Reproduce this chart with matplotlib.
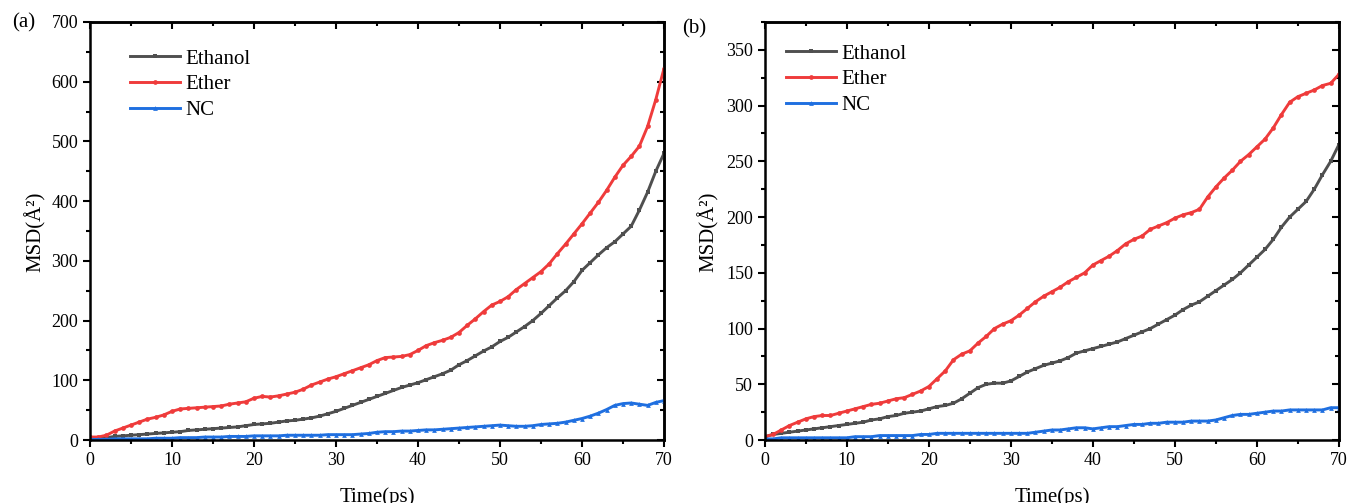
import matplotlib
matplotlib.use("Agg")
import matplotlib.pyplot as plt
from matplotlib.ticker import MultipleLocator

plt.rcParams['font.family'] = ['Liberation Serif', 'DejaVu Serif']

# ── Data (1 ps steps) ──
time_ps = list(range(0, 71))

ethanol_a = [2, 3, 4, 6, 7, 8, 9, 10, 11, 12,
             13, 14, 16, 17, 18, 19, 20, 21, 22, 24,
             26, 27, 28, 30, 32, 33, 35, 37, 40, 44,
             48, 53, 58, 63, 68, 73, 78, 83, 88, 92,
             96, 101, 106, 111, 117, 126, 133, 141, 149, 156,
             165, 172, 181, 190, 200, 212, 225, 238, 250, 265,
             284, 297, 310, 322, 332, 345, 358, 385, 415, 450,
             480]
ether_a = [5, 5, 8, 15, 20, 25, 30, 35, 38, 42,
           48, 52, 53, 54, 55, 56, 57, 60, 62, 64,
           70, 73, 72, 74, 77, 80, 85, 92, 97, 102,
           106, 111, 116, 121, 126, 133, 138, 139, 140, 143,
           150, 158, 163, 167, 172, 180, 192, 203, 215, 226,
           232, 240, 252, 262, 272, 282, 295, 312, 328, 345,
           362, 380, 398, 418, 440, 460, 475, 492, 525, 570,
           622]
nc_a = [1, 1, 1, 2, 2, 2, 2, 2, 3, 3,
        3, 4, 4, 4, 5, 5, 5, 6, 6, 6,
        7, 7, 7, 7, 8, 8, 8, 8, 8, 9,
        9, 9, 9, 10, 11, 13, 14, 14, 15, 15,
        16, 17, 17, 18, 19, 20, 21, 22, 23, 24,
        25, 24, 23, 23, 24, 26, 27, 28, 30, 33,
        36, 40, 45, 51, 58, 61, 62, 60, 58, 63,
        66]

ethanol_b = [3, 5, 6, 7, 8, 9, 10, 11, 12, 13,
             14, 15, 16, 18, 19, 21, 22, 24, 25, 26,
             28, 30, 31, 33, 37, 42, 47, 50, 51, 51,
             53, 57, 61, 64, 67, 69, 71, 74, 78, 80,
             82, 84, 86, 88, 91, 94, 97, 100, 104, 108,
             112, 117, 121, 124, 129, 134, 139, 144, 150, 157,
             164, 171, 180, 191, 200, 207, 214, 225, 238, 250,
             265]
ether_b = [3, 5, 9, 13, 16, 19, 21, 22, 22, 24,
           26, 28, 30, 32, 33, 35, 37, 38, 41, 44,
           48, 55, 62, 72, 77, 80, 87, 93, 100, 104,
           107, 112, 118, 124, 129, 133, 137, 142, 146, 150,
           157, 161, 165, 170, 176, 180, 183, 189, 192, 195,
           199, 202, 204, 207, 218, 227, 235, 242, 250, 256,
           263, 270, 280, 292, 303, 308, 311, 314, 318, 320,
           328]
nc_b = [1, 1, 2, 2, 2, 2, 2, 2, 2, 2,
        2, 3, 3, 3, 4, 4, 4, 4, 4, 5,
        5, 6, 6, 6, 6, 6, 6, 6, 6, 6,
        6, 6, 6, 7, 8, 9, 9, 10, 11, 11,
        10, 11, 12, 12, 13, 14, 14, 15, 15, 16,
        16, 16, 17, 17, 17, 18, 20, 22, 23, 23,
        24, 25, 26, 26, 27, 27, 27, 27, 27, 29,
        29]

series_names = ['Ethanol', 'Ether', 'NC']
series_colors = ['#4f4f4f', '#ef3b3b', '#1f6fe0']
series_markers = ['s', 'o', '^']

panels = [
    ('(a)', [ethanol_a, ether_a, nc_a], 700, 100, 50),
    ('(b)', [ethanol_b, ether_b, nc_b], 375, 50, 25),
]

# ── Figure ──
fig = plt.figure(figsize=(13.49, 5.03), dpi=100)
lefts = [0.0667, 0.567]
label_x = [0.009, 0.506]
label_y = [0.955, 0.942]
ylabel_x = [0.026, 0.525]
legend_anchor = [(0.0905, 0.919), (0.5767, 0.929)]

for i, (tag, data, ymax, ymaj, ymin) in enumerate(panels):
    ax = fig.add_axes([lefts[i], 0.1252, 0.4255, 0.8311])
    for vals, name, col, mk in zip(data, series_names, series_colors, series_markers):
        ax.plot(time_ps, vals, color=col, lw=2.1, marker=mk, ms=3.4,
                mew=0, label=name)

    ax.set_xlim(0, 70)
    ax.set_ylim(0, ymax)
    ax.xaxis.set_major_locator(MultipleLocator(10))
    ax.xaxis.set_minor_locator(MultipleLocator(5))
    ax.yaxis.set_major_locator(MultipleLocator(ymaj))
    ax.yaxis.set_minor_locator(MultipleLocator(ymin))
    ax.tick_params(which='both', direction='out', width=1.5, labelsize=13,
                   top=False, right=False)
    ax.tick_params(which='major', length=5)
    ax.tick_params(which='minor', length=3)
    for sp in ax.spines.values():
        sp.set_linewidth(1.8)

    # mirrored ticks pointing inward (Origin style)
    top = ax.secondary_xaxis('top')
    top.xaxis.set_major_locator(MultipleLocator(10))
    top.xaxis.set_minor_locator(MultipleLocator(5))
    top.tick_params(which='both', direction='in', width=1.5, labeltop=False)
    top.tick_params(which='major', length=5)
    top.tick_params(which='minor', length=3)
    right = ax.secondary_yaxis('right')
    right.yaxis.set_major_locator(MultipleLocator(ymaj))
    right.yaxis.set_minor_locator(MultipleLocator(ymin))
    right.tick_params(which='both', direction='in', width=1.5, labelright=False)
    right.tick_params(which='major', length=5)
    right.tick_params(which='minor', length=3)
    for s in (top, right):
        for sp in s.spines.values():
            sp.set_linewidth(1.8)

    ax.set_xlabel('Time(ps)', fontsize=15, labelpad=13)
    fig.text(ylabel_x[i], 0.54, 'MSD(Å²)', rotation=90, fontsize=15,
             ha='center', va='center')
    fig.text(label_x[i], label_y[i], tag, fontsize=15, ha='left', va='center')

    ax.legend(loc='upper left', bbox_to_anchor=legend_anchor[i],
              bbox_transform=fig.transFigure, frameon=False, fontsize=15,
              handlelength=2.4, handletextpad=0.25, labelspacing=0.3,
              numpoints=1, borderaxespad=0)

fig.savefig('out.png', dpi=100)
